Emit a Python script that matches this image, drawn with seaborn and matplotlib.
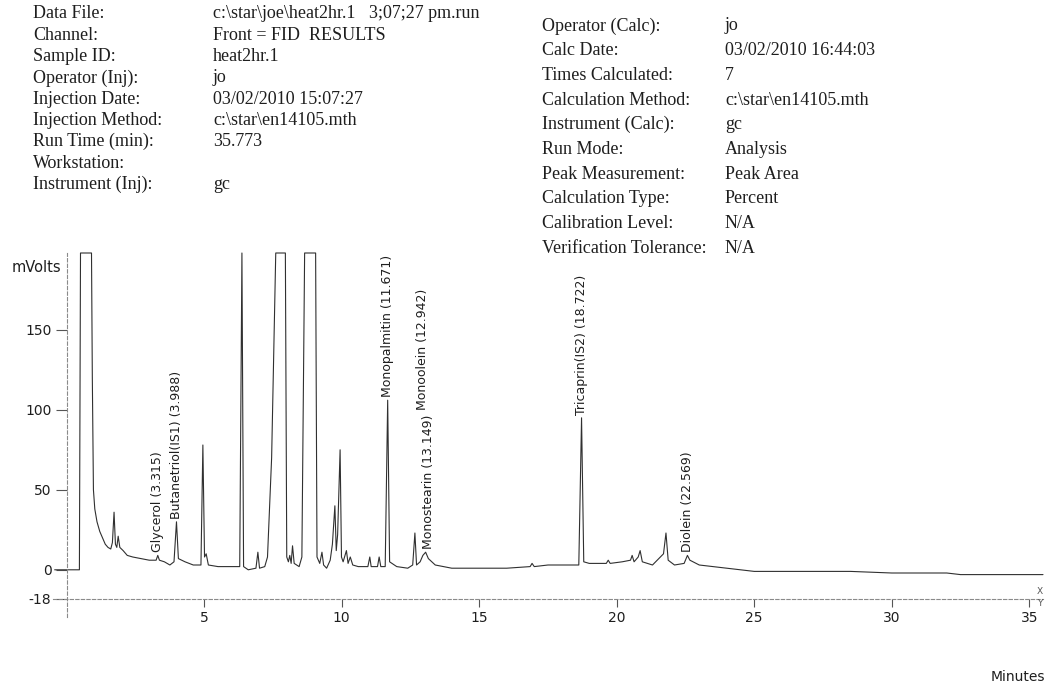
import matplotlib
matplotlib.use("Agg")
import matplotlib.pyplot as plt
import seaborn as sns
import numpy as np

# ---------------- data ----------------
trace_t = [-0.44, 0.46, 0.50, 0.90, 0.93, 0.97, 1.02, 1.10, 1.20, 1.30, 1.40, 1.50, 1.60, 1.66, 1.72,
           1.77, 1.82, 1.87, 1.93, 2.05, 2.20, 2.40, 2.70, 3.00, 3.25, 3.31, 3.37, 3.55, 3.75, 3.90,
           3.99, 4.06, 4.30, 4.60, 4.88, 4.95, 5.01, 5.07, 5.15, 5.50, 6.00, 6.29, 6.37, 6.43, 6.60,
           6.88, 6.95, 7.01, 7.20, 7.30, 7.45, 7.60, 7.95, 8.00, 8.06, 8.11, 8.16, 8.21, 8.27, 8.45,
           8.55, 8.65, 9.05, 9.10, 9.20, 9.28, 9.34, 9.45, 9.58, 9.66, 9.75, 9.80, 9.85, 9.94, 9.99,
           10.05, 10.17, 10.23, 10.31, 10.40, 10.60, 10.95, 11.02, 11.07, 11.30, 11.36, 11.42, 11.58,
           11.67, 11.74, 12.00, 12.40, 12.58, 12.66, 12.72, 12.85, 12.95, 13.05, 13.15, 13.40, 14.00,
           15.00, 16.00, 16.85, 16.92, 17.00, 17.50, 18.00, 18.62, 18.72, 18.80, 19.00, 19.62, 19.69,
           19.76, 20.20, 20.50, 20.56, 20.63, 20.78, 20.85, 20.93, 21.30, 21.70, 21.79, 21.87, 22.10,
           22.45, 22.57, 22.66, 23.00, 24.00, 25.00, 27.00, 28.50, 30.00, 32.00, 32.50, 35.50]
trace_mv = [0, 0, 198, 198, 120, 50, 38, 30, 24, 20, 16, 14, 13, 17, 36,
            16, 14, 21, 14, 12, 9, 8, 7, 6, 6, 9, 6, 5, 3, 5,
            30, 7, 5, 3, 3, 78, 8, 10, 3, 2, 2, 2, 198, 2, 0,
            1, 11, 1, 2, 8, 70, 198, 198, 8, 5, 9, 4, 15, 4, 2,
            8, 198, 198, 8, 4, 11, 3, 1, 6, 16, 40, 12, 22, 75, 8,
            5, 12, 4, 8, 3, 2, 2, 8, 2, 2, 8, 2, 2,
            106, 5, 2, 1, 3, 23, 3, 5, 9, 11, 7, 3, 1,
            1, 1, 2, 4, 2, 3, 3, 3, 95, 5, 4, 4, 6,
            4, 5, 6, 9, 5, 8, 12, 5, 3, 10, 23, 6, 3,
            4, 9, 6, 3, 1, -1, -1, -1, -2, -2, -3, -3]

peak_names = ["Glycerol (3.315)", "Butanetriol(IS1) (3.988)", "Monopalmitin (11.671)",
              "Monostearin (13.149)", "Monoolein (12.942)", "Tricaprin(IS2) (18.722)",
              "Diolein (22.569)"]
peak_times = [3.315, 3.988, 11.671, 13.149, 12.942, 18.722, 22.569]

y_ticks = [-18, 0, 50, 100, 150]
x_ticks = [5, 10, 15, 20, 25, 30, 35]

left_labels = ["Data File:", "Channel:", "Sample ID:", "Operator (Inj):", "Injection Date:",
               "Injection Method:", "Run Time (min):", "Workstation:", "Instrument (Inj):"]
left_values = [r"c:\star\joe\heat2hr.1   3;07;27 pm.run", "Front = FID  RESULTS", "heat2hr.1", "jo",
               "03/02/2010 15:07:27", r"c:\star\en14105.mth", "35.773", "", "gc"]
right_labels = ["Operator (Calc):", "Calc Date:", "Times Calculated:", "Calculation Method:",
                "Instrument (Calc):", "Run Mode:", "Peak Measurement:", "Calculation Type:",
                "Calibration Level:", "Verification Tolerance:"]
right_values = ["jo", "03/02/2010 16:44:03", "7", r"c:\star\en14105.mth", "gc", "Analysis",
                "Peak Area", "Percent", "N/A", "N/A"]

# ---------------- style ----------------
sns.set_theme(style="white")
plt.rcParams["font.family"] = ["DejaVu Sans"]

W, H = 1053, 686
fig = plt.figure(figsize=(W / 100, H / 100), dpi=100)
fig.patch.set_facecolor("white")
ax = fig.add_axes([53 / W, 1 - 617 / H, (1043 - 53) / W, (617 - 253) / H])
ax.set_facecolor("white")

ink = "#1e1e1e"
sns.lineplot(x=trace_t, y=trace_mv, ax=ax, sort=False, estimator=None,
             color="#303030", lw=0.8, clip_on=False)

ax.set_xlim(-0.5, 35.5)
ax.set_ylim(-29.5, 198)

for s in ["top", "right"]:
    ax.spines[s].set_visible(False)
ax.spines["left"].set_position(("data", 0))
ax.spines["bottom"].set_position(("data", -18))
for s in ["left", "bottom"]:
    ax.spines[s].set_linestyle((0, (3, 2)))
    ax.spines[s].set_color("#8a8a8a")
    ax.spines[s].set_linewidth(0.8)

ax.set_yticks(y_ticks)
ax.set_yticklabels([str(v) for v in y_ticks])
ax.set_xticks(x_ticks)
ax.set_xticklabels([str(v) for v in x_ticks])
ax.tick_params(axis="y", direction="out", length=8, width=0.8, color="#555555",
               pad=3, labelsize=10, labelcolor=ink, left=True)
ax.tick_params(axis="x", direction="out", length=6, width=0.8, color="#555555",
               pad=3, labelsize=10, labelcolor=ink, bottom=True)
ax.set_xlabel("")
ax.set_ylabel("")

# peak labels (placed just above each peak's apex; close labels stack in one column)
fig.canvas.draw()
renderer = fig.canvas.get_renderer()
t_arr = np.array(trace_t)
mv_arr = np.array(trace_mv)
placed = []
for name, t in zip(peak_names, peak_times):
    near = np.abs(t_arr - t) <= 0.1
    top = mv_arr[near].max() if near.any() else np.interp(t, t_arr, mv_arr)
    base = top + 2
    for (pt, ptop) in placed:
        if abs(pt - t) < 0.4:
            base = max(base, ptop + 3)
    txt = ax.text(t, base, name, rotation=90, ha="center", va="bottom",
                  fontsize=9, color=ink)
    bb = txt.get_window_extent(renderer)
    ytop = ax.transData.inverted().transform((bb.x1, bb.y1))[1]
    placed.append((t, ytop))

# axis titles
fig.text(12 / W, 1 - 268 / H, "mVolts", fontsize=10.5, color=ink, ha="left", va="center")
fig.text(1045 / W, 1 - 677 / H, "Minutes", fontsize=10, color=ink, ha="right", va="center")
fig.text(1040 / W, 1 - 591 / H, "X", fontsize=6.5, color="#555555", ha="center", va="center")
fig.text(1040 / W, 1 - 603 / H, "Y", fontsize=6.5, color="#555555", ha="center", va="center")

# header block
serif = ["Liberation Serif", "DejaVu Serif"]
for i, (lab, val) in enumerate(zip(left_labels, left_values)):
    y = 1 - (14 + 21.3 * i) / H
    fig.text(33 / W, y, lab, family=serif, fontsize=13, color=ink, ha="left", va="center")
    if val:
        fig.text(213 / W, y, val, family=serif, fontsize=13, color=ink, ha="left", va="center")
for i, (lab, val) in enumerate(zip(right_labels, right_values)):
    y = 1 - (26 + 24.7 * i) / H
    fig.text(542 / W, y, lab, family=serif, fontsize=13, color=ink, ha="left", va="center")
    fig.text(725 / W, y, val, family=serif, fontsize=13, color=ink, ha="left", va="center")

fig.savefig("out.png", dpi=100, facecolor="white")
